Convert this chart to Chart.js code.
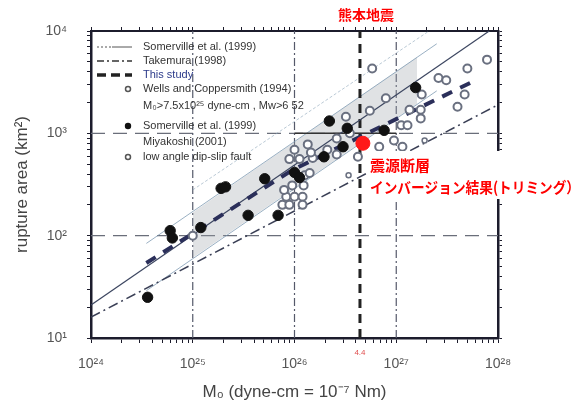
<!DOCTYPE html>
<html>
<head>
<meta charset="utf-8">
<script src="https://cdn.jsdelivr.net/npm/chart.js@4.4.0/dist/chart.umd.min.js"></script>
<style>
  html, body { margin: 0; padding: 0; background: #fff; }
</style>
</head>
<body>
<canvas id="chartRupture" width="584" height="409"></canvas>
<script>
// tick labels
const tickLabelsX = ['10²⁴', '10²⁵', '10²⁶', '10²⁷', '10²⁸'];
const tickLabelsY = ['10¹', '10²', '10³', '10⁴'];

// Somerville et al. (1999) / Miyakoshi (2001) - filled circles
const somervilleM0 = [3.6e24, 6.0e24, 6.3e24, 1.2e25, 1.9e25, 2.1e25, 3.5e25, 5.1e25, 6.9e25,
    1.0e26, 1.12e26, 1.95e26, 3.0e26, 2.2e26, 3.3e26, 7.6e26, 1.55e27];
const somervilleArea = [25, 112, 95, 120, 290, 300, 158, 360, 158,
    415, 370, 590, 740, 1320, 1120, 1070, 2800];

// Wells and Coppersmith (1994) - open circles
const wellsM0 = [1.0e25, 7.6e25, 8.3e25, 1.0e26, 1.2e26, 8.9e25, 1.2e26, 9.5e25, 1.23e26, 7.9e25,
    1.26e26, 8.9e25, 1.12e26, 1.51e26, 1.0e26, 1.35e26, 1.45e26, 2.1e26, 2.6e26, 2.6e26,
    3.2e26, 5.5e26, 5.8e26, 7.9e26, 4.2e26, 6.8e26, 9.5e26, 1.15e27, 1.12e27, 1.29e27,
    1.35e27, 1.74e27, 1.74e27, 1.78e27, 2.6e27, 3.1e27, 4.0e27, 4.7e27, 5.0e27, 7.8e27,
    1.41e26, 3.5e26];
const wellsArea = [100, 200, 240, 240, 240, 200, 200, 310, 310, 280,
    390, 560, 560, 575, 690, 780, 650, 690, 620, 890,
    1450, 1660, 4300, 2200, 590, 740, 850, 740, 1200, 1200,
    1700, 1700, 1400, 2400, 3470, 3300, 1820, 2400, 4300, 5250,
    410, 1000];

// low angle dip-slip fault - small open circles
const lowAngleM0 = [3.4e26, 1.9e27];
const lowAngleArea = [390, 850];

// regression lines
const somervilleLineM0 = [1e24, 8.2e27];
const somervilleLineArea = [21, 10000];
const bandEdgeM0 = [3.5e24, 2.5e27];
const bandEdgeUpperArea = [84, 7500];
const bandEdgeLowerArea = [29, 2600];
const bandFillM0 = [1e25, 1.6e27];
const bandFillUpperArea = [168, 5560];
const bandFillLowerArea = [61, 1930];
const outerLineM0 = [1e25, 2.1e27];
const outerLineArea = [280, 10000];
const takemuraM0 = [1e24, 1e28];
const takemuraArea = [16, 1900];
const thisStudyM0 = [3.5e24, 9.5e25, 5.5e27];
const thisStudyArea = [54, 437, 3160];

// Kumamoto earthquake
const kumamotoM0 = 4.4e26;
const kumamotoPoint = { x: 4.7e26, y: 800 };

// decade gridlines
const gridDecadesX = [1e25, 1e26, 1e27];
const gridDecadesY = [100, 1000];
const boxEdgeM0 = [1e26, 1e27];

const xMin = 1e24, xMax = 1e28, yMin = 10, yMax = 10000;

function zipXY(xs, ys) {
    return xs.map((x, i) => ({ x: x, y: ys[i] }));
}

function logTicks(min, max) {
    const out = [];
    for (let e = Math.round(Math.log10(min)); e < Math.round(Math.log10(max)); e++) {
        for (let s = 1; s <= 9; s++) out.push({ value: s * Math.pow(10, e) });
    }
    out.push({ value: max });
    return out;
}

function isDecade(v) {
    const e = Math.log10(v);
    return Math.abs(e - Math.round(e)) < 1e-9;
}

const lineBase = { showLine: true, pointRadius: 0, fill: false, tension: 0 };

const datasets = [
    { data: [kumamotoPoint], pointRadius: 7, backgroundColor: '#ff1a1a', borderColor: '#ff1a1a', order: 0 },
    { data: zipXY(somervilleM0, somervilleArea), pointRadius: 5.2, backgroundColor: '#111', borderColor: '#111', order: 1 },
    { data: zipXY(wellsM0, wellsArea), pointRadius: 4, borderWidth: 2, backgroundColor: '#fff', borderColor: '#6a7080', order: 2 },
    { data: zipXY(lowAngleM0, lowAngleArea), pointRadius: 2.5, borderWidth: 1.5, backgroundColor: '#fff', borderColor: '#6a7080', order: 2 },
    Object.assign({}, lineBase, { data: zipXY(thisStudyM0, thisStudyArea), borderColor: '#2b2f5a', borderWidth: 4, borderDash: [11, 9], order: 3 }),
    Object.assign({}, lineBase, { data: zipXY(takemuraM0, takemuraArea), borderColor: '#3a3f55', borderWidth: 1.5, borderDash: [10, 4, 2, 4], order: 4 }),
    Object.assign({}, lineBase, { data: zipXY(somervilleLineM0, somervilleLineArea), borderColor: '#3c4660', borderWidth: 1.2, order: 4 }),
    Object.assign({}, lineBase, { data: [{ x: kumamotoM0, y: yMin }, { x: kumamotoM0, y: yMax }], borderColor: '#222', borderWidth: 3, borderDash: [9, 6], order: 4 }),
    Object.assign({}, lineBase, { data: zipXY(bandFillM0, bandFillUpperArea), borderWidth: 0, borderColor: 'rgba(0,0,0,0)', fill: '+1', backgroundColor: 'rgba(160,165,172,0.32)', order: 7 }),
    Object.assign({}, lineBase, { data: zipXY(bandFillM0, bandFillLowerArea), borderWidth: 0, borderColor: 'rgba(0,0,0,0)', order: 7 }),
    Object.assign({}, lineBase, { data: zipXY(bandEdgeM0, bandEdgeUpperArea), borderColor: 'rgba(120,150,175,0.75)', borderWidth: 1, order: 6 }),
    Object.assign({}, lineBase, { data: zipXY(bandEdgeM0, bandEdgeLowerArea), borderColor: 'rgba(120,150,175,0.75)', borderWidth: 1, order: 6 }),
    Object.assign({}, lineBase, { data: zipXY(outerLineM0, outerLineArea), borderColor: 'rgba(140,165,185,0.6)', borderWidth: 1, borderDash: [3, 2], order: 6 }),
    Object.assign({}, lineBase, { data: zipXY(boxEdgeM0, [1000, 1000]), borderColor: '#333', borderWidth: 1.5, order: 5 })
];

gridDecadesX.forEach(v => {
    datasets.push(Object.assign({}, lineBase, { data: [{ x: v, y: yMin }, { x: v, y: yMax }], borderColor: '#55596a', borderWidth: 1.2, borderDash: [8, 3, 2, 3], order: 8 }));
});
gridDecadesY.forEach(v => {
    datasets.push(Object.assign({}, lineBase, { data: [{ x: xMin, y: v }, { x: xMax, y: v }], borderColor: '#6a6e7a', borderWidth: 1.2, borderDash: [14, 8], order: 8 }));
});

const legendPlugin = {
    id: 'innerLegend',
    afterDraw(chart) {
        const ctx = chart.ctx;
        ctx.save();
        const lx0 = 97, lx1 = 132, tx = 143;
        // line samples
        ctx.strokeStyle = '#555';
        ctx.lineWidth = 1;
        ctx.setLineDash([2, 2]);
        ctx.beginPath(); ctx.moveTo(lx0, 47); ctx.lineTo(112, 47); ctx.stroke();
        ctx.setLineDash([]);
        ctx.beginPath(); ctx.moveTo(112, 47); ctx.lineTo(lx1, 47); ctx.stroke();
        ctx.strokeStyle = '#333';
        ctx.lineWidth = 1.3;
        ctx.setLineDash([7, 3, 2, 3]);
        ctx.beginPath(); ctx.moveTo(lx0, 61); ctx.lineTo(lx1, 61); ctx.stroke();
        ctx.strokeStyle = '#222';
        ctx.lineWidth = 3.5;
        ctx.setLineDash([9, 5]);
        ctx.beginPath(); ctx.moveTo(lx0, 75); ctx.lineTo(lx1, 75); ctx.stroke();
        ctx.setLineDash([]);
        // marker samples
        ctx.lineWidth = 1.5;
        ctx.strokeStyle = '#555';
        ctx.fillStyle = '#fff';
        [89, 157].forEach(y => { ctx.beginPath(); ctx.arc(128, y, 2.5, 0, Math.PI * 2); ctx.fill(); ctx.stroke(); });
        ctx.fillStyle = '#111';
        ctx.beginPath(); ctx.arc(128, 126, 3.2, 0, Math.PI * 2); ctx.fill();
        // texts
        ctx.font = '11px "Liberation Sans", Arial, sans-serif';
        ctx.textBaseline = 'middle';
        ctx.textAlign = 'left';
        const rows = [
            ['Somerville et al. (1999)', 47, '#333'],
            ['Takemura (1998)', 61, '#333'],
            ['This study', 75, '#2b3a8a'],
            ['Wells and Coppersmith (1994)', 89, '#333'],
            ['M₀>7.5x10²⁵ dyne-cm , Mw>6 52', 106, '#333'],
            ['Somerville et al. (1999)', 126, '#333'],
            ['Miyakoshi (2001)', 142, '#333'],
            ['low angle dip-slip fault', 157, '#333']
        ];
        rows.forEach(r => { ctx.fillStyle = r[2]; ctx.fillText(r[0], tx, r[1]); });

        // red annotations
        ctx.fillStyle = '#fff';
        ctx.fillRect(368, 151, 216, 48);
        ctx.fillStyle = '#ff0000';
        ctx.font = 'bold 14px "Noto Sans CJK JP", sans-serif';
        ctx.textAlign = 'center';
        ctx.fillText('熊本地震', 366, 15);
        ctx.textAlign = 'left';
        ctx.font = 'bold 15px "Noto Sans CJK JP", sans-serif';
        ctx.fillText('震源断層', 370, 165);
        ctx.fillText('インバージョン結果(トリミング）', 370, 187, 210);
        ctx.font = '8px "Liberation Sans", Arial, sans-serif';
        ctx.fillStyle = '#e05050';
        ctx.textAlign = 'center';
        ctx.fillText('4.4', chart.scales.x.getPixelForValue(kumamotoM0), 353);
        ctx.restore();
    }
};

const axisColor = '#1c1c2c';
const tickFont = { family: '"Liberation Sans", Arial, sans-serif', size: 14 };

const config = {
    type: 'scatter',
    data: { datasets: datasets },
    options: {
        responsive: false,
        animation: false,
        devicePixelRatio: 1,
        events: [],
        plugins: { legend: { display: false }, tooltip: { enabled: false } },
        scales: {
            x: {
                type: 'logarithmic', position: 'bottom', min: xMin, max: xMax,
                afterBuildTicks: s => { s.ticks = logTicks(xMin, xMax); },
                afterFit: s => { s.height = 71; },
                grid: { drawOnChartArea: false, tickLength: 5, color: axisColor },
                border: { color: axisColor, width: 2.5 },
                ticks: {
                    autoSkip: false, maxRotation: 0, padding: 13, color: '#555', font: tickFont,
                    callback: v => isDecade(v) ? tickLabelsX[Math.round(Math.log10(v)) - 24] : ''
                },
                title: {
                    display: true, text: 'M₀ (dyne-cm = 10⁻⁷ Nm)', color: '#444',
                    font: { family: '"Liberation Sans", Arial, sans-serif', size: 17 },
                    padding: { top: 0, bottom: 6 }
                }
            },
            x2: {
                type: 'logarithmic', position: 'top', min: xMin, max: xMax,
                afterBuildTicks: s => { s.ticks = logTicks(xMin, xMax); },
                afterFit: s => { s.height = 31; },
                grid: { drawOnChartArea: false, tickLength: 4, color: axisColor },
                border: { color: axisColor, width: 2 },
                ticks: { display: false }
            },
            y: {
                type: 'logarithmic', position: 'left', min: yMin, max: yMax,
                afterBuildTicks: s => { s.ticks = logTicks(yMin, yMax); },
                afterFit: s => { s.width = 91; },
                grid: { drawOnChartArea: false, tickLength: 4, color: axisColor },
                border: { color: axisColor, width: 2.5 },
                ticks: {
                    autoSkip: false, padding: 20, color: '#555', font: tickFont,
                    callback: v => isDecade(v) ? tickLabelsY[Math.round(Math.log10(v)) - 1] : ''
                },
                title: {
                    display: true, text: 'rupture area (km²)', color: '#444',
                    font: { family: '"Liberation Sans", Arial, sans-serif', size: 17 },
                    padding: { top: 12, bottom: 0 }
                }
            },
            y2: {
                type: 'logarithmic', position: 'right', min: yMin, max: yMax,
                afterBuildTicks: s => { s.ticks = logTicks(yMin, yMax); },
                afterFit: s => { s.width = 86; },
                grid: { drawOnChartArea: false, tickLength: 4, color: axisColor },
                border: { color: axisColor, width: 2.5 },
                ticks: { display: false }
            }
        }
    },
    plugins: [legendPlugin]
};

const chartRupture = new Chart(document.getElementById('chartRupture'), config);
</script>
</body>
</html>
